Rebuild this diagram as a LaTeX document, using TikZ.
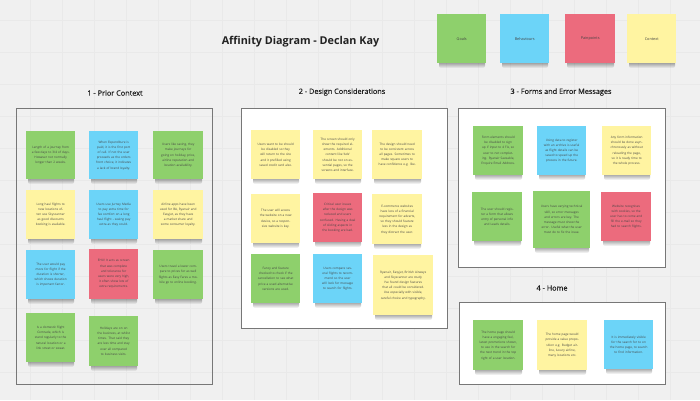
\documentclass[tikz,border=0pt]{standalone}
\usepackage{fontspec}
\setmainfont{Open Sans}
\newfontfamily\semib[FakeBold=0.5]{Open Sans}
\usetikzlibrary{fadings}
\definecolor{bg}{HTML}{F0F0F0}
\definecolor{gridc}{HTML}{E9E9E9}
\definecolor{framec}{HTML}{777777}
\definecolor{sgreen}{HTML}{8ED06C}
\definecolor{sblue}{HTML}{6CD4F8}
\definecolor{sred}{HTML}{EC6B7D}
\definecolor{syellow}{HTML}{FFF4A1}
\definecolor{stext}{HTML}{444444}
\definecolor{titlec}{HTML}{222222}
\tikzfading[name=shfade, top color=transparent!0, bottom color=transparent!100]
\tikzset{
  framebox/.style={draw=framec, line width=0.9pt},
  stickybox/.style={anchor=north west, inner sep=0pt, align=center, text=stext,
    font=\fontsize{3.1}{5.2}\selectfont},
  seclabel/.style={font=\semib\fontsize{7.3}{9}\selectfont, text=titlec},
}
\newcommand\stk[7]{%
  \pgfmathsetmacro\tw{#4-11}%
  \fill[black, opacity=0.5, path fading=shfade, rounded corners=2pt]
    (#2+2,#3+#5-3) rectangle (#2+#4-1,#3+#5+5);
  \node[stickybox, fill=#6, minimum width=#4pt, minimum height=#5pt, text width=\tw pt] (#1) at (#2,#3) {#7};
}
\begin{document}
\begin{tikzpicture}[x=1pt,y=-1pt]
\useasboundingbox (0,0) rectangle (700,400);
\fill[bg] (0,0) rectangle (700,400);
\foreach \i in {30,62,...,700} \draw[gridc, line width=0.3pt] (\i,0) -- (\i,400);
\foreach \j in {20,52,...,400} \draw[gridc, line width=0.3pt] (0,\j) -- (700,\j);

% title
\node[font=\bfseries\fontsize{10.8}{13}\selectfont, text=titlec] (title) at (300.5,42) {Affinity Diagram - Declan Kay};

% legend
\stk{lg}{437}{14}{49}{49}{sgreen}{\fontsize{3.8}{5}\selectfont Goals}
\stk{lb}{500}{14}{49}{49}{sblue}{\fontsize{3.8}{5}\selectfont Behaviours}
\stk{lr}{565}{14}{50}{49}{sred}{\fontsize{3.8}{5}\selectfont Painpoints}
\stk{ly}{627}{14}{49}{49}{syellow}{\fontsize{3.8}{5}\selectfont Context}

% frames
\draw[framebox] (16,108) rectangle (212,384);
\filldraw[framebox, fill=white] (241,108) rectangle (447,328);
\filldraw[framebox, fill=white] (458,108) rectangle (665,267);
\filldraw[framebox, fill=white] (459,302) rectangle (665,384);

% section labels
\node[seclabel] (s1) at (115,93) {1 - Prior Context};
\node[seclabel] (s2) at (342,92) {2 - Design Considerations};
\node[seclabel] (s3) at (561,92) {3 - Forms and Error Messages};
\node[seclabel] (s4) at (552,288) {4 - Home};

% section 1
\stk{a1}{26}{131}{49}{48}{sgreen}{Length of a journey from a few days to 3/4 of days. However not normally longer than 2 weeks.}
\stk{a2}{89}{131}{49}{48}{sblue}{When Expenditure is paid, it is the first port of call. If not the user proceeds as the orders front choice, it indicates a lack of brand loyalty.}
\stk{a3}{153}{131}{50}{48}{sgreen}{Users like saving, they make journeys for going on holiday, price, airline reputation and location availability.}
\stk{b1}{26}{190}{49}{49}{syellow}{Long haul flights to new locations often use Skyscanner as good discounts booking is available.}
\stk{b2}{89}{190}{49}{49}{sblue}{Users use Jurney Media to pay extra time for fax comfort on a long haul flight - seeing pay extra as they could.}
\stk{b3}{153}{190}{50}{49}{syellow}{Airline apps have been used for BA, Ryanair and Easyjet, as they have a market share and some consumer loyalty.}
\stk{c1}{26}{250}{49}{49}{sblue}{The user would pay more for flight if the duration is shorter, which shows duration is important factor.}
\stk{c2}{89}{249}{49}{50}{sred}{EHU! It acts as screen that was complete and tolerance for users were very high, it often show lots of extra requirements.}
\stk{c3}{153}{250}{50}{49}{sgreen}{Users travel a lower compare to prices for as well flights as Easy Fares a mobile go to online booking.}
\stk{d1}{26}{313}{49}{49}{sgreen}{Is a domestic flight Comrade, which is stand regularly to the natural location or a link street or sweat.}
\stk{d2}{89}{316}{49}{50}{sgreen}{Holidays are on on the business, at whilst times. That said they are less time and stay over all compared to business visits.}

% section 2
\stk{e1}{251}{130}{49}{49}{syellow}{Users want to be should be disabled so they will return to the site and it prefilled using saved credit card also.}
\stk{e2}{313}{130}{49}{49}{syellow}{The screen should only show the required elements. Additional content like `Ads' should be not on essential pages, so the screens and interface.}
\stk{e3}{372}{130}{50}{49}{syellow}{The design should need to be consistent across all pages. Sometimes to make square users to have confidence e.g. like.}
\stk{f1}{251}{194}{49}{49}{syellow}{The user will access the website on a new device, so a responsive website is key.}
\stk{f2}{313}{193}{49}{49}{sred}{Critical user issues after the design was reduced and users confused. Having a deal of sliding aspects in the booking are bad.}
\stk{f3}{372}{194}{50}{50}{syellow}{E-commerce websites have less of a financial requirement for adverts, so they should feature less in the design as they distract the user.}
\stk{g1}{251}{254}{49}{49}{sgreen}{Fancy and feature checked to check if the cancellation to see what price a used alternative versions are used.}
\stk{g2}{313}{254}{49}{49}{sblue}{Users compare several flights to recommend so the user will look for message to search for flights.}
\stk{g3}{373}{255}{60}{60}{syellow}{Ryanair, Easyjet, British Airways and Skyscanner are study I've found design features that all could be considered. Use especially with visible, careful choice and typography.}

% section 3
\stk{h1}{473}{126}{50}{49}{sgreen}{Form elements should be disabled to sign up if input to 4 Fix, so user to not completing. Ryanair Saveable, Enquire Email Address.}
\stk{h2}{537}{126}{49}{49}{sblue}{Using data to register with an archive is useful as flight details can be saved to speed up the process in the future.}
\stk{h3}{602}{126}{49}{49}{syellow}{Any form information should be done asynchronously as without reloading the page, so it is ready time to the whole process.}
\stk{i1}{472}{192}{50}{49}{sgreen}{The user should register a form that allows entry of personal info and Leads details.}
\stk{i2}{533}{191}{57}{57}{sgreen}{Users have varying technical skill, so error messages and errors are key. The message must show the error. Useful what the user must do to fix the issue.}
\stk{i3}{601}{192}{50}{49}{sred}{Website recognises with cookies, so the user has to come and fill the e-mail so they had to search flights.}

% section 4
\stk{j1}{473}{320}{50}{50}{sgreen}{The home page should have a engaging feel, latest promotions shown, to use in the search for the next trend in the top right of a user location.}
\stk{j2}{537}{320}{50}{50}{syellow}{The home page would provide a value proposition e.g. Budget airline, luxury airline, many locations etc.}
\stk{j3}{604}{320}{49}{49}{sblue}{It is immediately visible for the search for to on the home page, to search to find information.}
\end{tikzpicture}
\end{document}
